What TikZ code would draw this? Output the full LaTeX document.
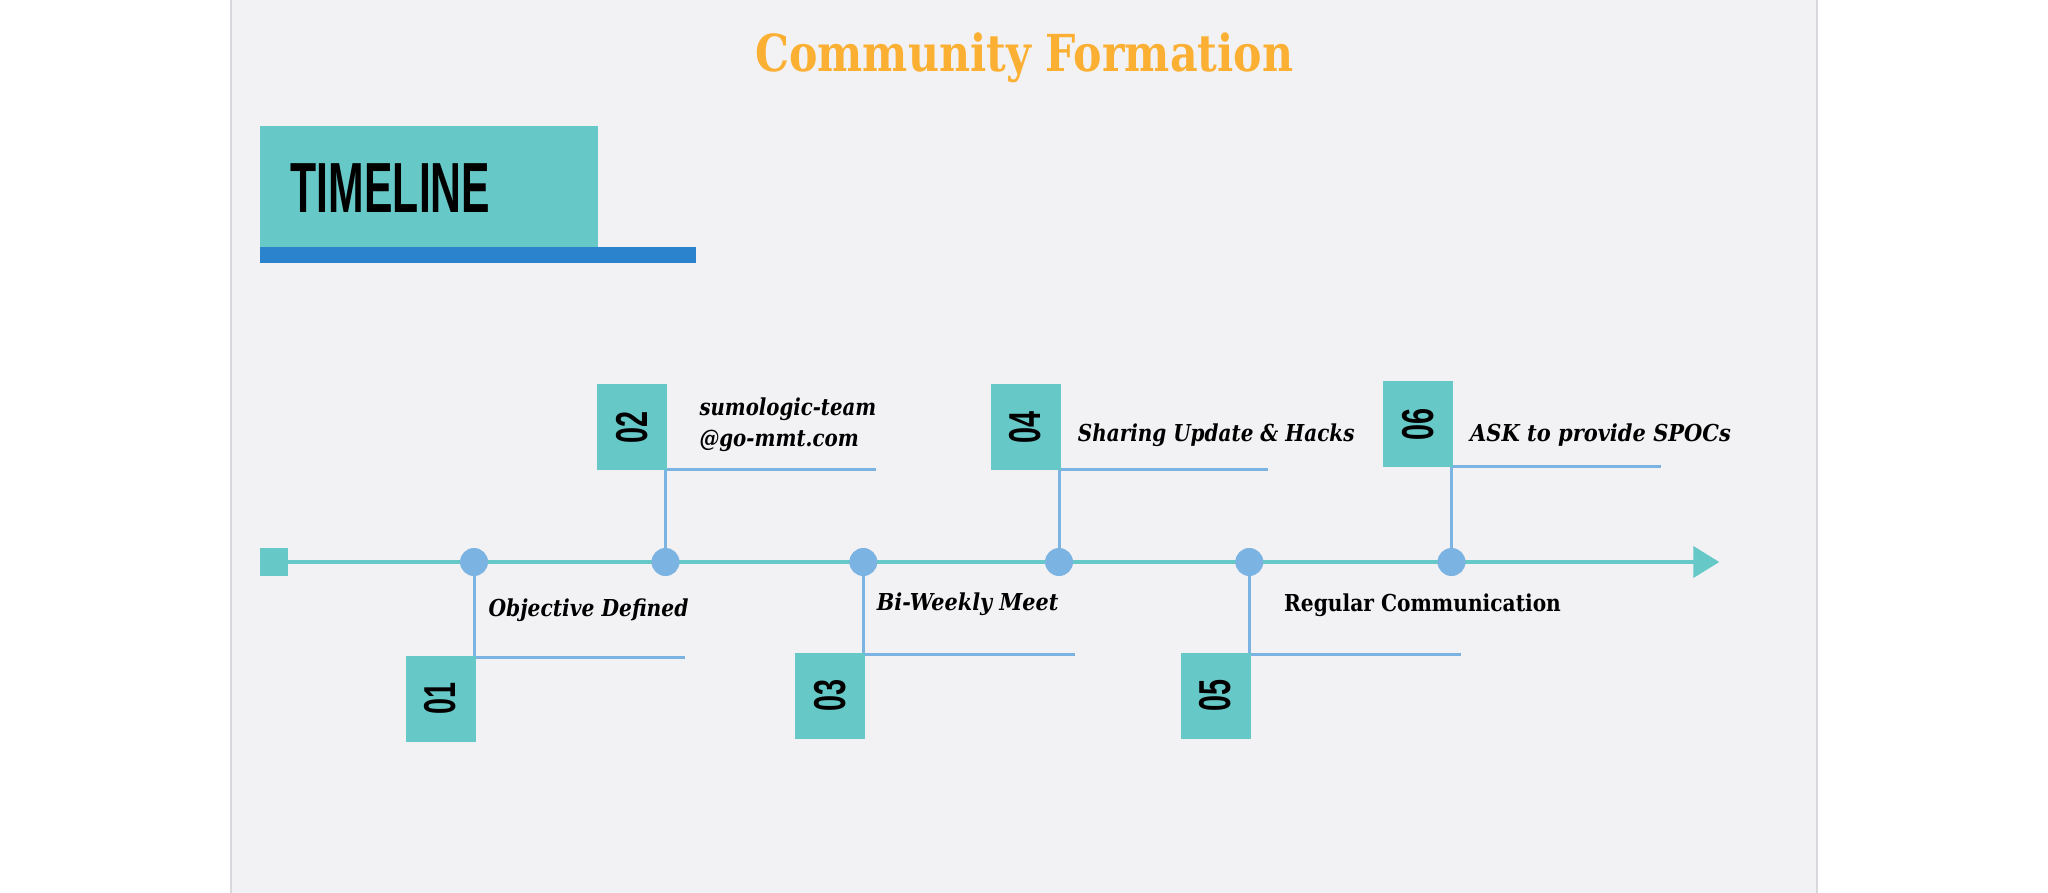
\documentclass[tikz,border=0pt]{standalone}
\usepackage{fontspec}
\usepackage{graphicx}
\usetikzlibrary{arrows.meta,backgrounds}
\setmainfont{DejaVu Serif}
\newfontfamily\condf{Liberation Sans}
\definecolor{pagebg}{HTML}{F2F2F4}
\definecolor{pageedge}{HTML}{D9D9DD}
\definecolor{tealc}{HTML}{67C8C8}
\definecolor{bluec}{HTML}{7BB3E3}
\definecolor{barc}{HTML}{2A83CC}
\definecolor{titlec}{HTML}{FBB034}
\newcommand\fitwd[2]{\resizebox{#1pt}{\height}{#2}}
\tikzset{
  numbox/.style={fill=tealc, minimum width=70, minimum height=86, inner sep=0, outer sep=0},
  dotc/.style={circle, fill=bluec, minimum size=28, inner sep=0},
  conn/.style={draw=bluec, line width=3},
  axisline/.style={draw=tealc, line width=4},
  lab/.style={anchor=base west, inner sep=0, font=\fontsize{23.3}{28}\selectfont\bfseries\itshape},
  labup/.style={anchor=base west, inner sep=0, font=\fontsize{23.3}{28}\selectfont\bfseries}
}
\newcommand\numlab[1]{\rotatebox{90}{\condf\bfseries\fontsize{44.7}{45}\selectfont\fitwd{32}{#1}}}
\begin{document}
\begin{tikzpicture}[x=1pt,y=-1pt]
\useasboundingbox (0,0) rectangle (2048,893);
% title
\node[anchor=base west, inner sep=0, text=titlec, font=\fontsize{51}{51}\selectfont\bfseries] (title) at (755,71.7) {\fitwd{538}{Community Formation}};
% header
\node[fill=tealc, minimum width=338, minimum height=121, inner sep=0, anchor=north west] (hdr) at (259.3,125.7) {};
\node[fill=barc, minimum width=436, minimum height=16.6, inner sep=0, anchor=north west] (bar) at (259.3,246.7) {};
\node[anchor=base west, inner sep=0] (tl) at (290.7,212.7) {\condf\bfseries\fontsize{71}{71}\selectfont\fitwd{199.3}{TIMELINE}};
% axis start and end
\node[fill=tealc, minimum size=28, inner sep=0] (start) at (274,562) {};
\coordinate (end) at (1719.3,562);
% dots
\node[dotc] (d1) at (474,562) {};
\node[dotc] (d2) at (665.5,562) {};
\node[dotc] (d3) at (863.3,562) {};
\node[dotc] (d4) at (1059,562) {};
\node[dotc] (d5) at (1249.3,562) {};
\node[dotc] (d6) at (1451.5,562) {};
% number boxes
\node[numbox] (b1) at (440.5,698.7) {\numlab{01}};
\node[numbox] (b2) at (632.2,427) {\numlab{02}};
\node[numbox] (b3) at (830,695.9) {\numlab{03}};
\node[numbox] (b4) at (1025.5,427.3) {\numlab{04}};
\node[numbox] (b5) at (1215.5,695.9) {\numlab{05}};
\node[numbox] (b6) at (1418,424) {\numlab{06}};
% free ends of the connectors
\coordinate (e1) at (685,657);
\coordinate (e2) at (876,469);
\coordinate (e3) at (1075,654);
\coordinate (e4) at (1268.3,469.3);
\coordinate (e5) at (1460.7,654);
\coordinate (e6) at (1661,466);
% labels
\node[lab] (t1) at (488.3,616.7) {\fitwd{200}{Objective Defined}};
\node[lab] (t2a) at (699.3,415.7) {\fitwd{176.7}{sumologic-team}};
\node[lab] (t2b) at (699.3,446) {\fitwd{159.3}{@go-mmt.com}};
\node[lab] (t3) at (876.7,610.7) {\fitwd{181.6}{Bi-Weekly Meet}};
\node[lab] (t4) at (1077.7,441) {\fitwd{276.6}{Sharing Update \& Hacks}};
\node[labup] (t5) at (1284,611) {\fitwd{276.7}{Regular Communication}};
\node[lab] (t6) at (1470,441) {\fitwd{260.7}{ASK to provide SPOCs}};
\begin{pgfonlayer}{background}
  \fill[white] (0,0) rectangle (2048,893);
  \fill[pagebg] (231,0) rectangle (1817,893);
  \draw[pageedge, line width=1.2] (231,0) -- (231,893);
  \draw[pageedge, line width=1.2] (1817,0) -- (1817,893);
  \draw[axisline, -{Triangle[length=26pt,width=31pt]}] (start.east) -- (end);
  \draw[conn] (d1.center) -- (d1 |- e1) -- (e1);
  \draw[conn] (d2.center) -- (d2 |- e2) -- (e2);
  \draw[conn] (d3.center) -- (d3 |- e3) -- (e3);
  \draw[conn] (d4.center) -- (d4 |- e4) -- (e4);
  \draw[conn] (d5.center) -- (d5 |- e5) -- (e5);
  \draw[conn] (d6.center) -- (d6 |- e6) -- (e6);
\end{pgfonlayer}
\end{tikzpicture}
\end{document}
